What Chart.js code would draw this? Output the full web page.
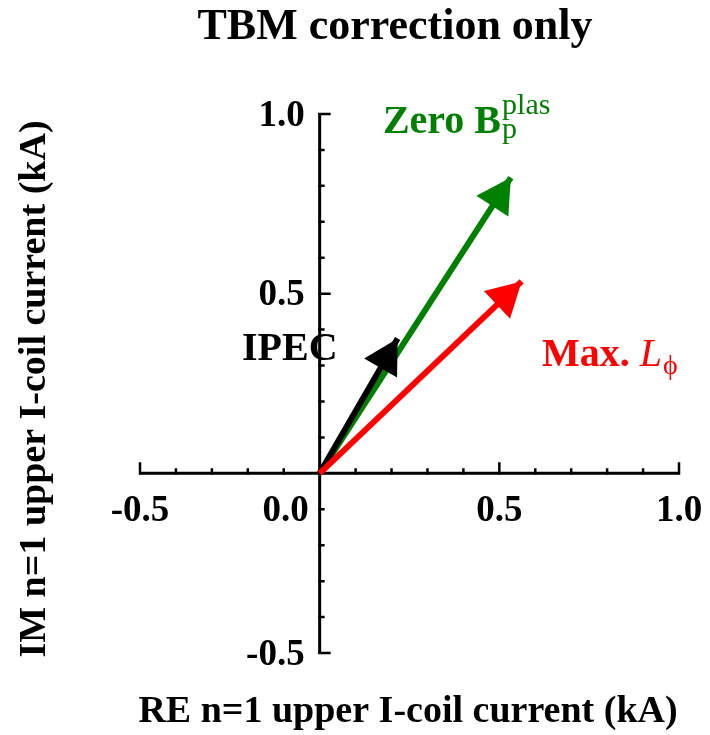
<!DOCTYPE html>
<html>
<head>
<meta charset="utf-8">
<script src="https://cdn.jsdelivr.net/npm/chart.js@4/dist/chart.umd.min.js"></script>
<style>
  html, body { margin: 0; padding: 0; background: #fff; }
  #wrap { width: 710px; height: 735px; }
</style>
</head>
<body>
<div id="wrap"><canvas id="chart"></canvas></div>
<script>
// tips of the correction vectors (kA), origin is 0,0
const vectorNames = ['Zero B_p^plas', 'IPEC', 'Max. L_phi'];
const vectorRe = [0.532, 0.217, 0.562];
const vectorIm = [0.823, 0.375, 0.534];

const xTickValues = [-0.5, 0.0, 0.5, 1.0];
const xTickLabels = ['-0.5', '0.0', '0.5', '1.0'];
const yTickValues = [1.0, 0.5, -0.5];
const yTickLabels = ['1.0', '0.5', '-0.5'];

const colors = ['#008000', '#000000', '#ff0000'];
const SERIF = '"Liberation Serif", "Times New Roman", serif';

const datasets = vectorNames.map((name, i) => ({
  label: name,
  data: [{ x: 0, y: 0 }, { x: vectorRe[i], y: vectorIm[i] }],
  showLine: true,
  borderColor: colors[i],
  backgroundColor: colors[i],
  borderWidth: 6,
  borderCapStyle: 'butt',
  pointRadius: 0,
  order: [2, 1, 0][i]
}));

// axes crossing at the origin, ticks pointing inward
const axesPlugin = {
  id: 'originAxes',
  beforeDatasetsDraw(chart) {
    const { ctx, scales: { x, y } } = chart;
    const x0 = x.getPixelForValue(0), y0 = y.getPixelForValue(0);
    ctx.save();
    ctx.strokeStyle = '#000';
    ctx.lineWidth = 3;
    ctx.lineCap = 'butt';
    ctx.beginPath();
    ctx.moveTo(x.getPixelForValue(x.min), y0);
    ctx.lineTo(x.getPixelForValue(x.max), y0);
    ctx.moveTo(x0, y.getPixelForValue(y.max));
    ctx.lineTo(x0, y.getPixelForValue(y.min));
    ctx.stroke();

    ctx.lineWidth = 2.5;
    ctx.beginPath();
    for (let i = -5; i <= 10; i++) {
      const v = i / 10;
      const major = i % 5 === 0;
      const len = major ? 11 : 5;
      if (i !== 0) {
        const px = x.getPixelForValue(v);
        ctx.moveTo(px, y0 + 1.5);
        ctx.lineTo(px, y0 - len);
        const py = y.getPixelForValue(v);
        ctx.moveTo(x0 - 1.5, py);
        ctx.lineTo(x0 + len, py);
      }
    }
    ctx.stroke();

    ctx.fillStyle = '#000';
    ctx.font = 'bold 37px ' + SERIF;
    ctx.textBaseline = 'middle';
    ctx.textAlign = 'center';
    xTickValues.forEach((v, i) => {
      let px = x.getPixelForValue(v);
      if (v === 0) px -= 34;
      ctx.fillText(xTickLabels[i], px, y0 + 38);
    });
    ctx.textAlign = 'right';
    yTickValues.forEach((v, i) => {
      ctx.fillText(yTickLabels[i], x0 - 15, y.getPixelForValue(v) + 2);
    });
    ctx.restore();
  },
  afterDatasetDraw(chart, args) {
    const { ctx } = chart;
    const pts = args.meta.data;
    const a = pts[0], b = pts[1];
    const dx = b.x - a.x, dy = b.y - a.y;
    const d = Math.hypot(dx, dy);
    const ux = dx / d, uy = dy / d;
    const L = 34, W = 19;
    const bx = b.x - ux * L, by = b.y - uy * L;
    ctx.save();
    ctx.fillStyle = colors[args.index];
    ctx.beginPath();
    ctx.moveTo(b.x, b.y);
    ctx.lineTo(bx - uy * W, by + ux * W);
    ctx.lineTo(bx + uy * W, by - ux * W);
    ctx.closePath();
    ctx.fill();
    ctx.restore();
  },
  afterDraw(chart) {
    const { ctx, scales: { x, y } } = chart;
    ctx.save();
    ctx.textBaseline = 'alphabetic';

    // title
    ctx.fillStyle = '#000';
    ctx.textAlign = 'center';
    ctx.font = 'bold 44px ' + SERIF;
    ctx.fillText('TBM correction only', 395, 39);

    // axis titles
    ctx.font = 'bold 38px ' + SERIF;
    ctx.fillText('RE n=1 upper I-coil current (kA)', 408, 722);
    ctx.save();
    ctx.translate(45, 389);
    ctx.rotate(-Math.PI / 2);
    ctx.fillText('IM n=1 upper I-coil current (kA)', 0, 0);
    ctx.restore();

    ctx.textAlign = 'left';
    // Zero B_p^plas
    let px = x.getPixelForValue(0.176), py = y.getPixelForValue(0.948);
    ctx.fillStyle = colors[0];
    ctx.font = 'bold 40px ' + SERIF;
    ctx.fillText('Zero B', px, py);
    let w = ctx.measureText('Zero B').width;
    ctx.font = '30px ' + SERIF;
    ctx.fillText('plas', px + w + 1, py - 19);
    ctx.fillText('p', px + w + 1, py + 5);

    // IPEC
    ctx.fillStyle = colors[1];
    ctx.font = 'bold 40px ' + SERIF;
    ctx.fillText('IPEC', x.getPixelForValue(-0.216), y.getPixelForValue(0.316));

    // Max. L_phi
    px = x.getPixelForValue(0.619); py = y.getPixelForValue(0.30);
    ctx.fillStyle = colors[2];
    ctx.font = 'bold 40px ' + SERIF;
    ctx.fillText('Max. ', px, py);
    w = ctx.measureText('Max. ').width;
    ctx.font = 'italic 40px ' + SERIF;
    ctx.fillText('L', px + w, py);
    w += ctx.measureText('L').width;
    ctx.font = '28px ' + SERIF;
    ctx.fillText('\u03D5', px + w + 1, py + 8);
    ctx.restore();
  }
};

new Chart(document.getElementById('chart'), {
  type: 'scatter',
  data: { datasets },
  options: {
    responsive: true,
    maintainAspectRatio: false,
    animation: false,
    layout: { padding: { left: 140, right: 31, top: 114, bottom: 82 } },
    plugins: { legend: { display: false }, tooltip: { enabled: false }, title: { display: false } },
    scales: {
      x: { type: 'linear', min: -0.5, max: 1.0, display: false },
      y: { type: 'linear', min: -0.5, max: 1.0, display: false }
    }
  },
  plugins: [axesPlugin]
});
</script>
</body>
</html>
